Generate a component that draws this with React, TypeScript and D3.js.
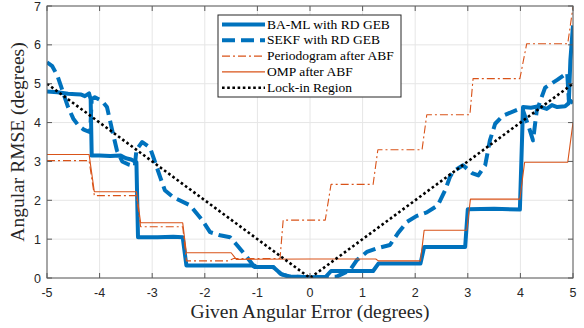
import * as d3 from "d3";

// ---- data ----
const xTicks = [-5, -4, -3, -2, -1, 0, 1, 2, 3, 4, 5];
const yTicks = [0, 1, 2, 3, 4, 5, 6, 7];

const baMl: [number, number][] = [
  [-5, 4.8], [-4.8, 4.78], [-4.6, 4.74], [-4.45, 4.73], [-4.35, 4.72], [-4.28, 4.68], [-4.2, 4.75],
  [-4.17, 4.6], [-4.15, 3.15], [-4.0, 3.15], [-3.8, 3.14], [-3.6, 3.15], [-3.5, 3.08], [-3.4, 3.05],
  [-3.3, 2.98], [-3.27, 1.05], [-2.9, 1.05], [-2.6, 1.06], [-2.42, 1.05], [-2.35, 0.32], [-2.0, 0.32],
  [-1.5, 0.32], [-1.1, 0.32], [-1.05, 0.28], [-0.7, 0.28], [-0.55, 0.1], [-0.4, 0.04], [0, 0.02],
  [0.3, 0.03], [0.4, 0.18], [1.2, 0.18], [1.3, 0.37], [2.1, 0.37], [2.17, 0.8], [2.95, 0.8],
  [3.0, 1.77], [3.5, 1.78], [3.99, 1.76], [4.05, 4.4], [4.2, 4.38], [4.35, 4.42], [4.5, 4.35],
  [4.6, 4.45], [4.7, 4.4], [4.85, 4.42], [4.92, 4.5], [4.95, 5.6], [5, 6.5],
];

const sekf: [number, number][] = [
  [-5, 5.55], [-4.9, 5.45], [-4.8, 5.2], [-4.7, 4.8], [-4.6, 4.4], [-4.5, 4.1], [-4.4, 3.92],
  [-4.3, 3.82], [-4.18, 3.75], [-4.15, 4.6], [-4.09, 4.65], [-3.95, 4.55], [-3.86, 4.4],
  [-3.76, 3.8], [-3.67, 3.28], [-3.57, 3.0], [-3.45, 2.92], [-3.33, 2.88], [-3.3, 3.3],
  [-3.19, 3.5], [-3.04, 3.35], [-2.95, 3.0], [-2.85, 2.6], [-2.76, 2.26], [-2.6, 2.08],
  [-2.28, 1.87], [-2.05, 1.49], [-1.9, 1.18], [-1.71, 1.1], [-1.52, 1.05], [-1.39, 0.85],
  [-1.2, 0.54], [-1.08, 0.33], [-1.0, 0.28], [-0.7, 0.28], [-0.55, 0.1], [-0.4, 0.04], [0, 0.02],
  [0.5, 0.03], [0.76, 0.2], [0.89, 0.46], [1.08, 0.67], [1.29, 0.77], [1.52, 0.85], [1.67, 1.15],
  [1.84, 1.44], [2.03, 1.6], [2.22, 1.69], [2.43, 1.87], [2.57, 2.26], [2.66, 2.6], [2.72, 2.74],
  [2.91, 2.9], [3.08, 2.7], [3.2, 2.64], [3.33, 2.9], [3.42, 3.54], [3.52, 3.97], [3.67, 4.18],
  [3.94, 4.33], [4.05, 4.31], [4.18, 3.8], [4.24, 3.54], [4.31, 4.3], [4.47, 4.9], [4.7, 5.1],
  [4.89, 5.28], [4.92, 4.6], [5, 4.5],
];

const periodogram: [number, number][] = [
  [-5, 3.02], [-4.2, 3.02], [-4.1, 2.12], [-3.3, 2.12], [-3.22, 1.32], [-2.42, 1.32], [-2.35, 0.44],
  [-1.55, 0.44], [-1.45, 0.5], [-0.57, 0.5], [-0.51, 1.49], [0.29, 1.49], [0.4, 2.41], [1.2, 2.41],
  [1.29, 3.3], [2.13, 3.3], [2.22, 4.2], [3.04, 4.2], [3.1, 5.13], [3.99, 5.13], [4.12, 6.03],
  [4.9, 6.03], [5, 6.98],
];

const omp: [number, number][] = [
  [-5, 3.18], [-4.2, 3.18], [-4.1, 2.22], [-3.3, 2.22], [-3.22, 1.42], [-2.42, 1.42], [-2.35, 0.65],
  [-1.5, 0.65], [-1.4, 0.48], [0, 0.49], [1.25, 0.49], [1.3, 0.44], [2.1, 0.44], [2.17, 1.23],
  [2.98, 1.23], [3.05, 2.03], [3.99, 2.03], [4.08, 2.98], [4.9, 2.98], [5, 4.0],
];

const lockIn: [number, number][] = [[-5, 5], [0, 0], [5, 5]];

const legendLabels = [
  "BA-ML with RD GEB",
  "SEKF with RD GEB",
  "Periodogram after ABF",
  "OMP after ABF",
  "Lock-in Region",
];

const blue = "#0072BD";
const orange = "#D95319";

const styles = [
  { color: blue, width: 4, dash: "" },
  { color: blue, width: 4, dash: "13,6" },
  { color: orange, width: 1.1, dash: "8,3,2,3" },
  { color: orange, width: 1.1, dash: "" },
  { color: "#000", width: 2.6, dash: "2.6,2.6" },
];

const series = [baMl, sekf, periodogram, omp, lockIn];

export default function App() {
  const W = 584;
  const H = 328;
  const left = 47, right = 573, top = 6, bottom = 278;

  const x = d3.scaleLinear().domain([-5, 5]).range([left, right]);
  const y = d3.scaleLinear().domain([0, 7]).range([bottom, top]);
  const line = d3.line<[number, number]>().x((d) => x(d[0])).y((d) => y(d[1]));

  const axisColor = "#5a5a5a";
  const tick = 5;

  const lgX = 218, lgY = 15, lgW = 183, lgH = 82;

  return (
    <svg width={W} height={H} style={{ position: "absolute", left: 0, top: 0, background: "#fff" }}>
      <defs>
        <clipPath id="plotclip">
          <rect x={left} y={top} width={right - left} height={bottom - top} />
        </clipPath>
      </defs>
      <rect x={left} y={top} width={right - left} height={bottom - top} fill="#fff" />
      {/* grid */}
      {xTicks.map((t) => (
        <line key={"gx" + t} x1={x(t)} x2={x(t)} y1={top} y2={bottom} stroke="#e6e6e6" strokeWidth={1} />
      ))}
      {yTicks.map((t) => (
        <line key={"gy" + t} x1={left} x2={right} y1={y(t)} y2={y(t)} stroke="#e6e6e6" strokeWidth={1} />
      ))}
      {/* series */}
      <g clipPath="url(#plotclip)">
        {series.map((s, i) => (
          <path
            key={i}
            d={line(s) || ""}
            fill="none"
            stroke={styles[i].color}
            strokeWidth={styles[i].width}
            strokeDasharray={styles[i].dash || undefined}
            strokeLinejoin="round"
          />
        ))}
      </g>
      {/* box + ticks */}
      <rect x={left} y={top} width={right - left} height={bottom - top} fill="none" stroke={axisColor} strokeWidth={1} />
      {xTicks.map((t) => (
        <g key={"tx" + t}>
          <line x1={x(t)} x2={x(t)} y1={bottom} y2={bottom - tick} stroke={axisColor} />
          <line x1={x(t)} x2={x(t)} y1={top} y2={top + tick} stroke={axisColor} />
          <text x={x(t)} y={297} textAnchor="middle" fontFamily="Liberation Sans, Arial, sans-serif" fontSize={12.5} fill="#262626">
            {t}
          </text>
        </g>
      ))}
      {yTicks.map((t) => (
        <g key={"ty" + t}>
          <line x1={left} x2={left + tick} y1={y(t)} y2={y(t)} stroke={axisColor} />
          <line x1={right} x2={right - tick} y1={y(t)} y2={y(t)} stroke={axisColor} />
          <text x={41} y={y(t) + 4.5} textAnchor="end" fontFamily="Liberation Sans, Arial, sans-serif" fontSize={12.5} fill="#262626">
            {t}
          </text>
        </g>
      ))}
      {/* axis labels */}
      <text x={(left + right) / 2 + 0} y={318} textAnchor="middle" fontFamily="Liberation Serif, serif" fontSize={19.5} fill="#262626">
        Given Angular Error (degrees)
      </text>
      <text
        transform={`translate(24,${(top + bottom) / 2}) rotate(-90)`}
        textAnchor="middle"
        fontFamily="Liberation Serif, serif"
        fontSize={19.5}
        fill="#262626"
      >
        Angular RMSE (degrees)
      </text>
      {/* legend */}
      <rect x={lgX} y={lgY} width={lgW} height={lgH} fill="#fff" stroke="#262626" strokeWidth={1} />
      {legendLabels.map((lab, i) => {
        const ry = lgY + 9.5 + i * 15.8;
        return (
          <g key={lab}>
            <line
              x1={lgX + 4}
              x2={lgX + 47}
              y1={ry}
              y2={ry}
              stroke={styles[i].color}
              strokeWidth={styles[i].width}
              strokeDasharray={styles[i].dash || undefined}
            />
            <text x={lgX + 49} y={ry + 4} fontFamily="Liberation Serif, serif" fontSize={13.5} fill="#000">
              {lab}
            </text>
          </g>
        );
      })}
    </svg>
  );
}
